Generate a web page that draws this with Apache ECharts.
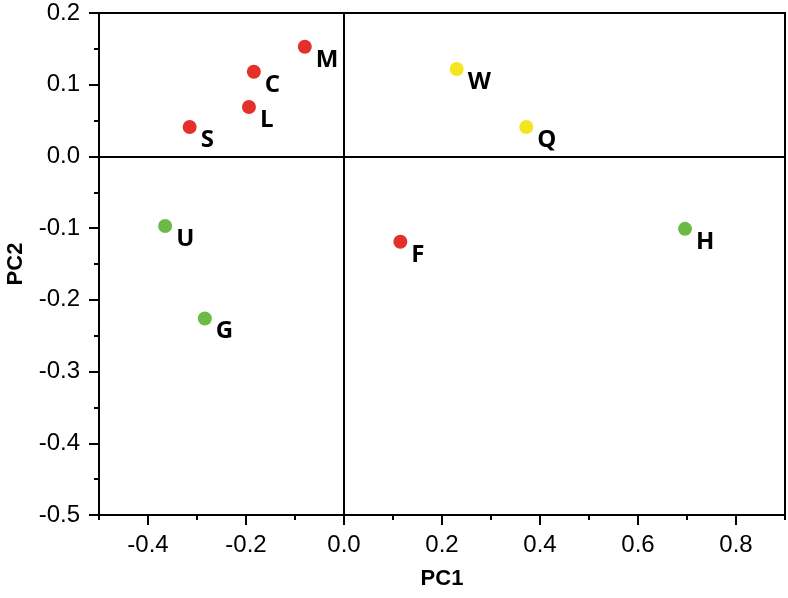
<!DOCTYPE html>
<html>
<head>
<meta charset="utf-8">
<script src="https://cdn.jsdelivr.net/npm/echarts@6/dist/echarts.min.js"></script>
<style>html,body{margin:0;padding:0;background:#fff}#c{width:788px;height:598px}</style>
</head>
<body>
<div id="c"></div>
<script>
const names  = ['M', 'C', 'L', 'S', 'W', 'Q', 'U', 'G', 'F', 'H'];
const pc1    = [-0.080, -0.184, -0.194, -0.315, 0.230, 0.372, -0.365, -0.284, 0.115, 0.696];
const pc2    = [0.153, 0.118, 0.069, 0.041, 0.122, 0.041, -0.097, -0.226, -0.119, -0.101];
const groups = ['red', 'red', 'red', 'red', 'yellow', 'yellow', 'green', 'green', 'red', 'green'];
const xMajorTicks = [-0.4, -0.2, 0.0, 0.2, 0.4, 0.6, 0.8];

const groupColors = { red: '#e3312a', yellow: '#f4e51c', green: '#6cba45' };

const chart = echarts.init(document.getElementById('c'));
const fontTick = 'Liberation Sans, Arial, sans-serif';

const series = Object.keys(groupColors).map((g, gi) => {
  const data = [];
  names.forEach((n, i) => { if (groups[i] === g) data.push({ value: [pc1[i], pc2[i]], name: n }); });
  const s = {
    type: 'scatter',
    name: g,
    data: data,
    symbolSize: 14,
    itemStyle: { color: groupColors[g], opacity: 1 },
    label: {
      show: true,
      formatter: p => p.name,
      position: 'right',
      distance: 4,
      offset: [0, 13],
      color: '#000',
      opacity: 1,
      fontFamily: 'Open Sans, sans-serif',
      fontWeight: 'bold',
      fontSize: 24
    },
    z: 5
  };
  if (gi === 0) {
    s.markLine = {
      silent: true,
      symbol: 'none',
      label: { show: false },
      lineStyle: { color: '#000', width: 2, type: 'solid', opacity: 1 },
      data: [{ xAxis: 0 }, { yAxis: 0 }],
      z: 1
    };
  }
  return s;
});

chart.setOption({
  animation: false,
  backgroundColor: '#fff',
  grid: { left: 99, right: 3, top: 13, bottom: 83, outerBoundsMode: 'none', containLabel: false, show: true, borderColor: '#000', borderWidth: 2, backgroundColor: 'transparent' },
  xAxis: [
    {
      type: 'value', min: -0.5, max: 0.9, position: 'bottom',
      name: 'PC1', nameLocation: 'middle', nameGap: 53,
      nameTextStyle: { fontFamily: fontTick, fontWeight: 'bold', fontSize: 22, color: '#000' },
      axisLine: { show: true, onZero: false, lineStyle: { color: '#000', width: 2 } },
      axisTick: { show: true, length: 10, customValues: xMajorTicks, lineStyle: { color: '#000', width: 2 } },
      axisLabel: { show: true, customValues: xMajorTicks, margin: 18, fontFamily: fontTick, fontSize: 24, color: '#000', formatter: v => v.toFixed(1) },
      splitLine: { show: false }
    },
    {
      type: 'value', min: -0.5, max: 0.9, interval: 0.1, position: 'bottom',
      axisLine: { show: false, onZero: false },
      axisTick: { show: true, length: 5, lineStyle: { color: '#000', width: 2 } },
      axisLabel: { show: false },
      splitLine: { show: false }
    }
  ],
  yAxis: {
    type: 'value', min: -0.5, max: 0.2, interval: 0.1, position: 'left',
    name: 'PC2', nameLocation: 'middle', nameGap: 72, nameRotate: 90,
    nameTextStyle: { fontFamily: fontTick, fontWeight: 'bold', fontSize: 22, color: '#000' },
    axisLine: { show: true, onZero: false, lineStyle: { color: '#000', width: 2 } },
    axisTick: { show: true, length: 10, lineStyle: { color: '#000', width: 2 } },
    minorTick: { show: true, splitNumber: 2, length: 5, lineStyle: { color: '#000', width: 2 } },
    axisLabel: { margin: 19, fontFamily: fontTick, fontSize: 24, color: '#000', formatter: v => v.toFixed(1) },
    splitLine: { show: false }
  },
  series: series
});
</script>
</body>
</html>
